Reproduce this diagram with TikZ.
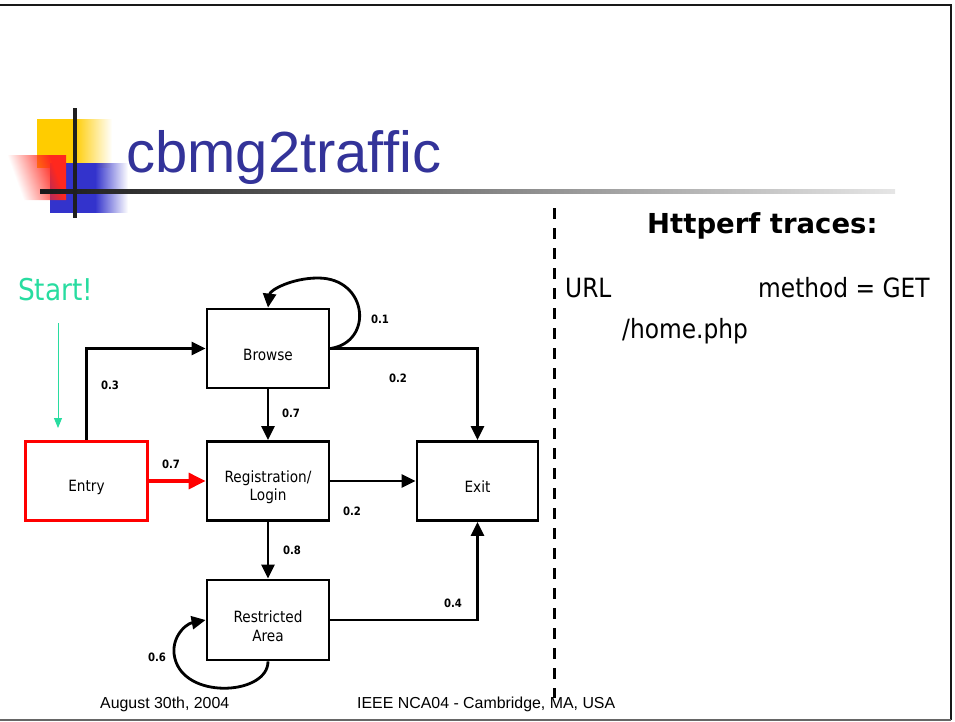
\documentclass[tikz,border=0pt]{standalone}
\usepackage{fontspec}
\setmainfont{Liberation Sans}
\newfontfamily\tah{DejaVu Sans}[FakeStretch=0.88]
\newfontfamily\verd{DejaVu Sans}
\usetikzlibrary{arrows.meta,fadings}

\definecolor{titleblue}{RGB}{51,51,153}
\definecolor{startgreen}{RGB}{40,220,160}
\definecolor{logoyellow}{RGB}{255,204,0}
\definecolor{logoblue}{RGB}{51,51,204}
\definecolor{logored}{RGB}{255,40,30}

\tikzfading[name=fadeout, left color=transparent!0, right color=transparent!100]

\tikzset{
  statebox/.style={draw=black, line width=2.8, fill=white, minimum width=122, minimum height=79,
    inner sep=0},
  entrybox/.style={statebox, draw=red, line width=3.6},
  boxtext/.style={inner sep=0, align=center, yshift=-6pt, font=\tah\fontsize{15.5}{18.5}\selectfont},
  conn/.style={line width=2.8, -{Triangle[length=14,width=13]}},
  redconn/.style={line width=3.2, draw=red, -{Triangle[length=17,width=16]}, red},
  prob/.style={inner sep=0, font=\tah\bfseries\fontsize{11.5}{13}\selectfont},
  rhs/.style={inner sep=0, anchor=base west, font=\tah\fontsize{26.5}{30}\selectfont},
  foot/.style={inner sep=0, anchor=base west, font=\fontsize{15.9}{18}\selectfont},
}

\begin{document}
\begin{tikzpicture}[x=1pt, y=-1pt]
\useasboundingbox (0,0) rectangle (955,722);

% slide frame
\draw[line width=2.5, black!90] (0,5) -- (951,5) -- (951,720);
\draw[line width=2, black!60] (0,720) -- (951,720);

% title ornament
\fill[logoyellow] (37,119) rectangle (74,168);
\fill[logoyellow, path fading=fadeout] (74,119) rectangle (112,168);
\fill[logoblue] (50,163) rectangle (95,213);
\fill[logoblue, path fading=fadeout] (95,163) rectangle (128,213);
\fill[logored, path fading=fadeout, fit fading=false,
  fading transform={shift={(36.5,177.5)}, rotate=200, scale=0.8}] (7,155) rectangle (66,200);
\shade[left color=black!90, right color=black!10] (40,190) rectangle (895,194);
\fill[black!88] (73,108) rectangle (77,218);

\node[anchor=base west, inner sep=0, text=titleblue, font=\fontsize{58}{60}\selectfont] (title) at (126,173) {cbmg2traffic};

% states
\node[statebox, label={[boxtext]center:Browse}] (browse) at (268,348.5) {};
\node[statebox, label={[boxtext]center:{Registration/\\Login}}] (reg) at (268,481) {};
\node[entrybox, label={[boxtext]center:Entry}] (entry) at (86.5,481) {};
\node[statebox, minimum width=121, label={[boxtext]center:Exit}] (exit) at (477.5,481) {};
\node[statebox, minimum height=80, label={[boxtext]center:{Restricted\\Area}}] (restr) at (268,620) {};

% transitions
\draw[conn] (entry.north) |- (browse.west);
\draw[redconn] (entry.east) -- (reg.west);
\draw[conn] (browse.south) -- (reg.north);
\draw[conn] (reg.east) -- (exit.west);
\draw[conn] (browse.east) -| (exit.north);
\draw[conn] (reg.south) -- (restr.north);
\draw[conn] (restr.east) -| (exit.south);
\draw[conn] (browse.east) .. controls (374,342) and (368,278) .. (318,278)
  .. controls (292,278) and (270,290) .. (browse.north);
\draw[conn] (restr.south) .. controls (268,694) and (190,700) .. (176,662)
  .. controls (168,640) and (185,624) .. (restr.west);

% transition probabilities
\node[prob] (p01) at (380,319) {0.1};
\node[prob] (p02a) at (398,378) {0.2};
\node[prob] (p03) at (110,385) {0.3};
\node[prob] (p07a) at (291,413) {0.7};
\node[prob] (p07b) at (171,464) {0.7};
\node[prob] (p02b) at (352,511) {0.2};
\node[prob] (p08) at (292,550) {0.8};
\node[prob] (p04) at (453,603) {0.4};
\node[prob] (p06) at (157,657) {0.6};

% start marker
\node[inner sep=0, anchor=base west, text=startgreen, font=\tah\fontsize{30}{34}\selectfont] (start) at (18,300) {Start!};
\coordinate (startfrom) at (58,323);
\coordinate (startto) at (58,428);
\draw[startgreen, line width=1, -{Triangle[length=10,width=8]}] (startfrom) -- (startto);

% separator
\draw[line width=3, dash pattern=on 11 off 9] (554,208) -- (554,698);

% trace panel
\node[inner sep=0, anchor=base west, font=\verd\bfseries\fontsize{27.5}{31}\selectfont] (head) at (647,233) {Httperf traces:};
\node[rhs] (url) at (565,297) {URL};
\node[rhs] (method) at (758,297) {method = GET};
\node[rhs] (path) at (622,338) {/home.php};

% footer
\node[foot] (date) at (100,708) {August 30th, 2004};
\node[foot] (conf) at (357,708) {IEEE NCA04 - Cambridge, MA, USA};
\end{tikzpicture}
\end{document}
